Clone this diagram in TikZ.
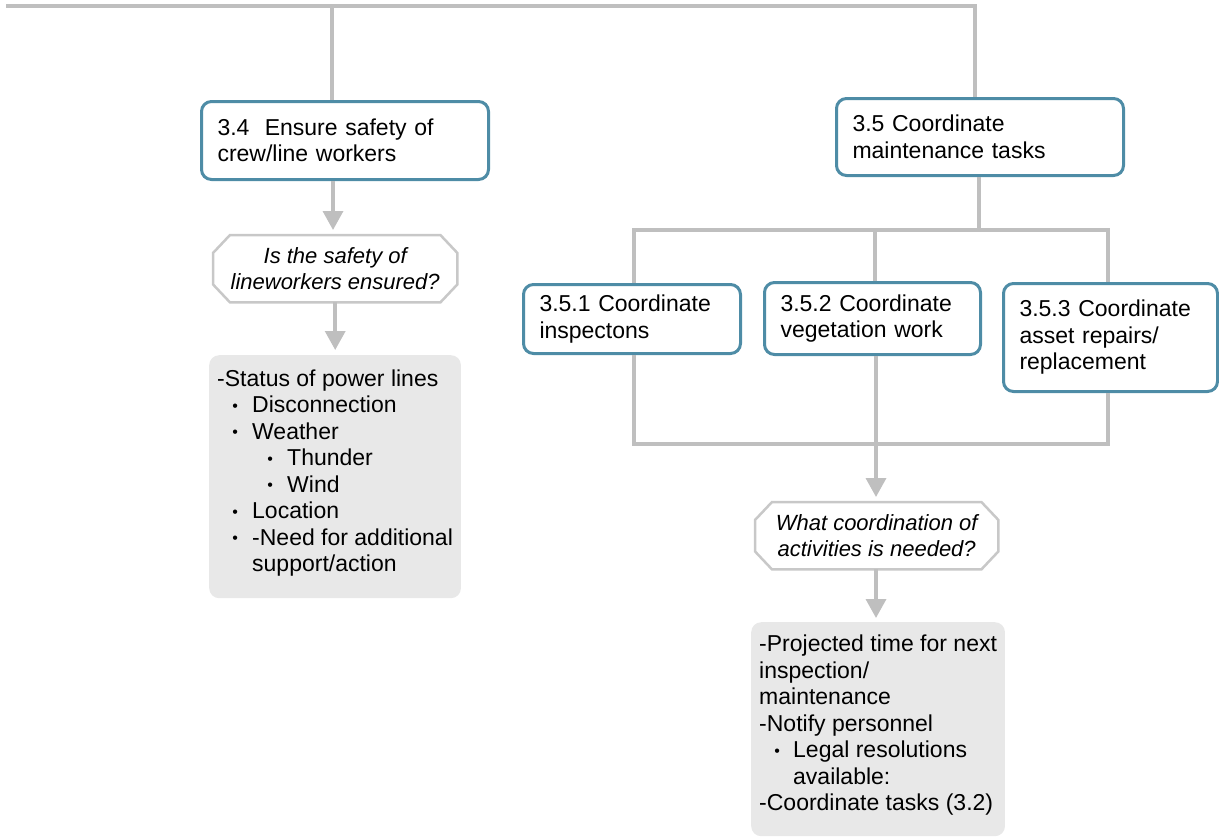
\documentclass[tikz,border=0pt]{standalone}
\usepackage{fontspec}
\setmainfont{Liberation Sans}
\usetikzlibrary{arrows.meta}

\definecolor{linkgray}{RGB}{191,191,191}
\definecolor{boxblue}{RGB}{78,140,166}
\definecolor{notefill}{RGB}{232,232,232}
\definecolor{octgray}{RGB}{200,200,200}

% small list bullet, centred on the current point
\newcommand\dotmark{\makebox[0pt]{\fontsize{16}{16}\selectfont\raisebox{1.5pt}{\textbullet}}}
\newcommand\itemA{\hspace*{18pt}\dotmark\hspace*{17pt}}
\newcommand\itemB{\hspace*{53pt}\dotmark\hspace*{17pt}}
\newcommand\itemcont{\hspace*{35pt}}
% extra depth under the last line of a note
\newcommand\tailgap[1]{\rule[-#1]{0pt}{0pt}}

% octagonal outline around a rectangular node
\newcommand\octframe[1]{%
  \draw[octline] ([xshift=17pt]#1.north west) -- ([xshift=-17pt]#1.north east)
    -- ([yshift=-18pt]#1.north east) -- ([yshift=18pt]#1.south east)
    -- ([xshift=-17pt]#1.south east) -- ([xshift=17pt]#1.south west)
    -- ([yshift=18pt]#1.south west) -- ([yshift=-18pt]#1.north west) -- cycle;}

\begin{document}
\begin{tikzpicture}[x=1pt,y=-1pt,
  every node/.style={font=\fontsize{23}{26.5}\selectfont},
  task/.style={draw=boxblue, line width=3pt, rounded corners=10pt, fill=white,
    align=left, inner xsep=16pt, inner ysep=0pt, anchor=north west},
  note/.style={fill=notefill, rounded corners=10pt, align=left,
    inner xsep=8pt, inner ysep=0pt, anchor=north west},
  query/.style={align=center, font=\fontsize{22}{26.5}\selectfont\itshape,
    anchor=north west, inner sep=0pt},
  link/.style={draw=linkgray, line width=3.5pt, line join=miter},
  flow/.style={link, -{Triangle[width=20pt,length=19pt]}},
  octline/.style={draw=octgray, line width=2.5pt, line join=miter}
]
\useasboundingbox (0,0) rectangle (1219,839);

% ---- task boxes
\node[task, text width=255pt, minimum height=78pt] (b34) at (200,100)
  {3.4\ \ Ensure safety of\\crew/line workers};
\node[task, text width=255pt, minimum height=77pt] (b35) at (835,97)
  {3.5 Coordinate\\maintenance tasks};
\node[task, text width=185pt, minimum height=69pt] (b351) at (522,283)
  {3.5.1 Coordinate\\inspectons};
\node[task, text width=184pt, minimum height=72pt] (b352) at (763,281)
  {3.5.2 Coordinate\\vegetation work};
\node[task, text width=182pt, minimum height=108pt] (b353) at (1002,282)
  {3.5.3 Coordinate\\asset repairs/\\replacement};

% ---- questions
\node[query, minimum width=244pt, minimum height=67pt] (q1) at (213,235)
  {Is the safety of\\lineworkers ensured?};
\octframe{q1}
\node[query, minimum width=243pt, minimum height=67pt] (q2) at (755,502)
  {What coordination of\\activities is needed?};
\octframe{q2}

% ---- information notes
\node[note, minimum width=251pt, minimum height=243pt] (g1) at (209,355)
  {-Status of power lines\\
   \itemA Disconnection\\
   \itemA Weather\\
   \itemB Thunder\\
   \itemB Wind\\
   \itemA Location\\
   \itemA -Need for additional\\
   \itemcont support/action\tailgap{12pt}};
\node[note, minimum width=252pt, minimum height=214pt] (g2) at (751,622)
  {-Projected time for next\\
   inspection/\\
   maintenance\\
   -Notify personnel\\
   \hspace*{18pt}\dotmark\hspace*{16pt}Legal resolutions\\
   \hspace*{34pt}available:\\
   -Coordinate tasks (3.2)\tailgap{13pt}};

% ---- connector junctions
\coordinate (topL) at (6,6);
\coordinate (topR) at (975,6);
\coordinate (j34) at (332,6);
\coordinate (a34) at (333,0);
\coordinate (bar35) at (979,230);
\coordinate (barL) at (634,230);
\coordinate (barM) at (875,230);
\coordinate (barR) at (1108,230);
\coordinate (botL) at (634,444);
\coordinate (botR) at (1108,444);
\coordinate (midD) at (876,0);

% ---- upper tree
\draw[link] (topL) -- (topR) -- (topR |- b35.north);
\draw[link] (j34) -- (j34 |- b34.north);

% ---- left branch
\draw[flow, shorten >=5pt] (a34 |- b34.south) -- (a34 |- q1.north);
\draw[flow, shorten >=5pt] (q1.south) -- (q1.south |- g1.north);

% ---- right branch: fan out
\draw[link] (bar35 |- b35.south) -- (bar35);
\draw[link] (barL |- b351.north) -- (barL) -- (barR) -- (barR |- b353.north);
\draw[link] (barM) -- (barM |- b352.north);

% ---- right branch: gather
\draw[link] (botL |- b351.south) -- (botL) -- (botR) -- (botR |- b353.south);
\draw[flow, shorten >=5pt] (midD |- b352.south) -- (midD |- q2.north);
\draw[flow, shorten >=4pt] (midD |- q2.south) -- (midD |- g2.north);
\end{tikzpicture}
\end{document}
